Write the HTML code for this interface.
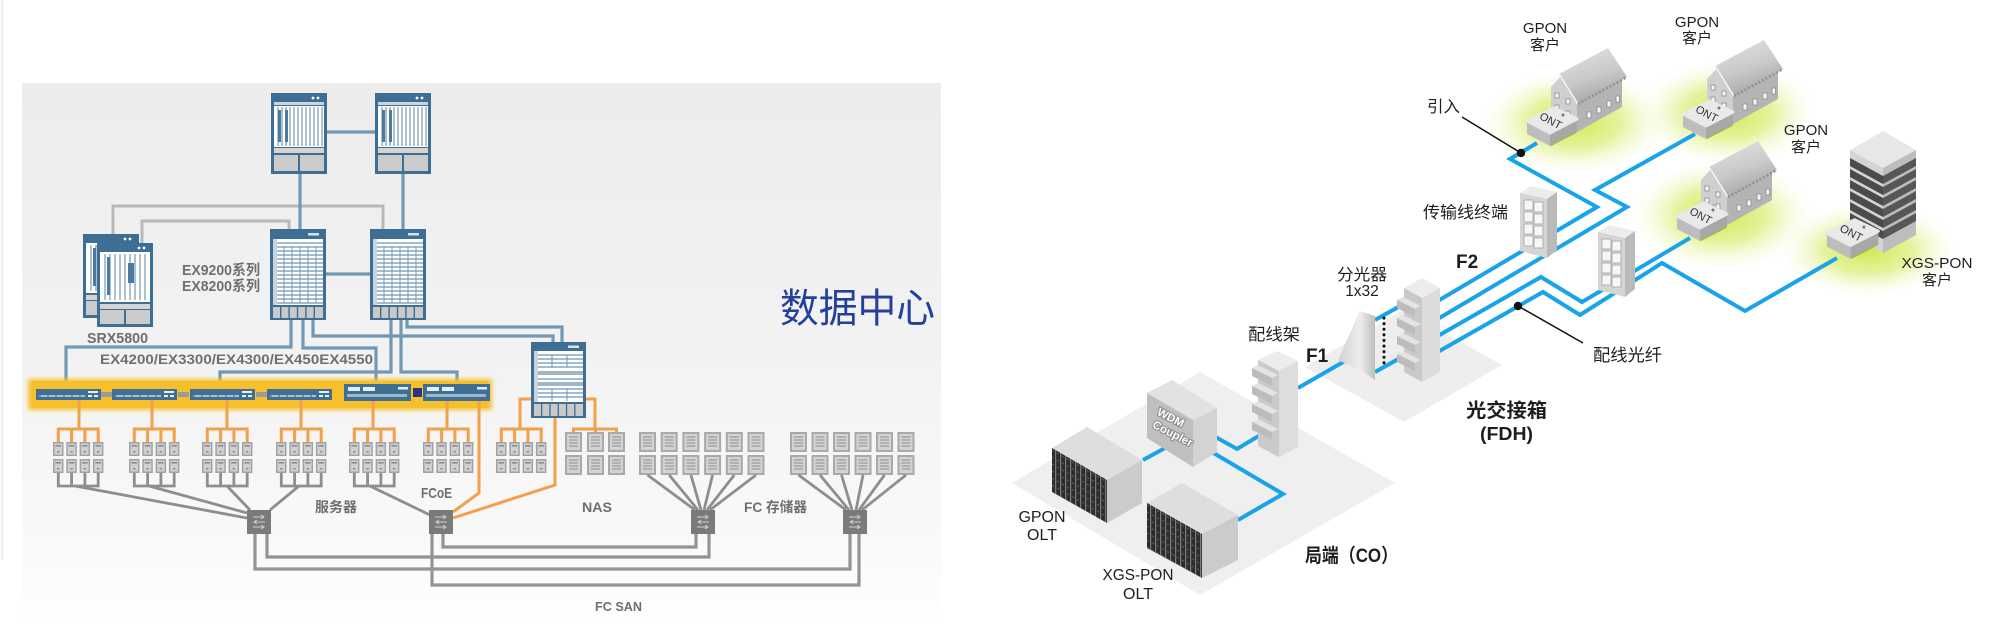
<!DOCTYPE html>
<html><head><meta charset="utf-8">
<style>
html,body{margin:0;padding:0;background:#fff;}
svg{display:block;}
.lt{font-family:"Liberation Sans","Noto Sans CJK SC",sans-serif;font-weight:bold;fill:#6f6f6f;}
.rt{font-family:"Liberation Sans","Noto Sans CJK SC",sans-serif;fill:#1e1e1e;}
.rb{font-family:"Liberation Sans","Noto Sans CJK SC",sans-serif;fill:#1e1e1e;font-weight:bold;}
.dc{font-family:"Liberation Sans","Noto Sans CJK SC",sans-serif;fill:#24409a;}
.wdm{font-family:"Liberation Sans",sans-serif;font-weight:bold;font-size:11.5px;fill:#fff;stroke:#8a8a8a;stroke-width:2;paint-order:stroke;}
.ont{font-family:"Liberation Sans",sans-serif;font-size:11px;fill:#333;}
</style></head>
<body>
<svg width="2006" height="627" viewBox="0 0 2006 627" xmlns="http://www.w3.org/2000/svg">
<defs>
 <linearGradient id="panelG" x1="0" y1="0" x2="0" y2="1">
  <stop offset="0" stop-color="#ececec"/><stop offset="0.55" stop-color="#f3f3f3"/><stop offset="0.85" stop-color="#f9f9f9"/><stop offset="1" stop-color="#fefefe"/>
 </linearGradient>
 <filter id="blur2" x="-5%" y="-40%" width="110%" height="180%"><feGaussianBlur stdDeviation="2.2"/></filter>
 <radialGradient id="glow" cx="0.5" cy="0.5" r="0.5">
  <stop offset="0" stop-color="#cfe94f" stop-opacity="1"/><stop offset="0.5" stop-color="#dbef7c" stop-opacity="0.75"/><stop offset="1" stop-color="#f4fbd6" stop-opacity="0"/>
 </radialGradient>
 <linearGradient id="roofG" x1="0" y1="0" x2="0.4" y2="1">
  <stop offset="0" stop-color="#e6e6e6"/><stop offset="0.6" stop-color="#c9c9c9"/><stop offset="1" stop-color="#a9a9a9"/>
 </linearGradient>
 <linearGradient id="splG" x1="0" y1="0" x2="1" y2="0">
  <stop offset="0" stop-color="#d2d2d2"/><stop offset="0.6" stop-color="#ededed"/><stop offset="1" stop-color="#bdbdbd"/>
 </linearGradient>
 <pattern id="grille" width="5" height="7" patternUnits="userSpaceOnUse" patternTransform="skewY(30)">
  <rect width="5" height="7" fill="#2c2c2c"/><rect x="0" y="0" width="1.2" height="7" fill="#7d7d7d"/><rect x="2" y="3" width="2" height="1.4" fill="#5a5a5a"/>
 </pattern>

 <g id="srv"><rect width="10.5" height="14" fill="#a2a2a2"/><rect x="1.5" y="1.5" width="7.5" height="11" fill="#d0d0d0"/><rect x="2.5" y="3" width="5.5" height="1.6" fill="#8c8c8c"/><rect x="4" y="9" width="2.5" height="1.5" fill="#8c8c8c"/></g>
 <g id="sto"><rect width="17" height="20" fill="#a9a9a9"/><rect x="2" y="2" width="13" height="16" fill="#d3d3d3"/><path d="M4 5h9M4 8h9M4 11h9M4 14h9" stroke="#9c9c9c" stroke-width="1.2"/></g>
 <g id="sansw"><rect width="24" height="24" fill="#7a7a7a"/><path d="M6 7h11M14 5l3 2-3 2M18 12H7M10 10l-3 2 3 2M6 17h11M14 15l3 2-3 2" stroke="#d0d0d0" stroke-width="1" fill="none"/></g>
 <g id="ssw"><rect width="65" height="11" fill="#3f6f95"/><rect x="3" y="6" width="46" height="2" fill="#a9c1d3"/><path d="M4 6v2M12 6v2M20 6v2M28 6v2M36 6v2M44 6v2" stroke="#3f6f95" stroke-width="1"/><rect x="52" y="2" width="10" height="2" fill="#e6eef4"/><rect x="52" y="6" width="4" height="2" fill="#e6eef4"/><rect x="58" y="6" width="4" height="2" fill="#e6eef4"/></g>
 <g id="bsw"><rect width="67" height="17" fill="#3f6f95"/><rect x="4" y="3" width="12" height="4" fill="#e6eef4"/><rect x="19" y="3" width="12" height="4" fill="#e6eef4"/><rect x="54" y="3" width="10" height="2.5" fill="#e6eef4"/><rect x="3" y="10" width="60" height="3" fill="#9bb7cc"/></g>
 <g id="rtr">
  <rect width="56" height="81" fill="#3e6e93"/>
  <circle cx="42" cy="5" r="1.4" fill="#fff"/><circle cx="47" cy="5" r="1.4" fill="#fff"/>
  <rect x="3" y="9" width="50" height="3" fill="#c9d6df"/>
  <rect x="3" y="13" width="50" height="41" fill="#fff"/>
  <path d="M7 14v39M11 14v39M15 14v39M19 14v39M23 14v39M27 14v39M31 14v39M35 14v39M39 14v39M43 14v39M47 14v39M51 14v39" stroke="#8aa8bd" stroke-width="1.4"/>
  <rect x="7" y="17" width="3" height="32" fill="#4b7a9c"/><rect x="14" y="17" width="3" height="32" fill="#4b7a9c"/>
  <rect x="3" y="55" width="50" height="5" fill="#d4d4d4"/>
  <rect x="3" y="62" width="24" height="16" fill="#cbcbcb"/><rect x="29" y="62" width="24" height="16" fill="#cbcbcb"/>
 </g>
 <g id="ex">
  <rect width="56" height="91" fill="#3e6e93"/>
  <rect x="38" y="4" width="11" height="2.5" fill="#d6e1ea"/>
  <rect x="3" y="10" width="50" height="66" fill="#fff"/>
  <rect x="3" y="10" width="4" height="66" fill="#c8d4de"/>
  <path d="M7 14h46M7 18h46M7 22h46M7 26h46M7 30h46M7 34h46M7 38h46M7 42h46M7 46h46M7 50h46M7 54h46M7 58h46M7 62h46M7 66h46M7 70h46M7 74h46" stroke="#6e95b3" stroke-width="1.3"/>
  <path d="M14 18v56M22 18v56M30 18v56M38 18v56M46 18v56" stroke="#6e95b3" stroke-width="0.9"/>
  <g fill="#c9c9c9"><rect x="3" y="78" width="7" height="11"/><rect x="11.4" y="78" width="7" height="11"/><rect x="19.8" y="78" width="7" height="11"/><rect x="28.2" y="78" width="7" height="11"/><rect x="36.6" y="78" width="7" height="11"/><rect x="45" y="78" width="8" height="11"/></g>
 </g>
 <g id="srx">
  <rect width="56" height="84" fill="#3e6e93"/>
  <circle cx="42" cy="5" r="1.4" fill="#fff"/><circle cx="47" cy="5" r="1.4" fill="#fff"/>
  <rect x="3" y="9" width="50" height="50" fill="#fff"/>
  <path d="M8 11v46M13 11v46M18 11v46M23 11v46M28 11v46M33 11v46M38 11v46M43 11v46M48 11v46" stroke="#8aa8bd" stroke-width="1.4"/>
  <rect x="10" y="14" width="3" height="38" fill="#4b7a9c"/><rect x="31" y="20" width="6" height="20" fill="#4b7a9c"/>
  <rect x="3" y="61" width="50" height="5" fill="#d4d4d4"/>
  <rect x="3" y="67" width="24" height="14" fill="#cbcbcb"/><rect x="29" y="67" width="24" height="14" fill="#cbcbcb"/>
 </g>

 <g id="house">
  <polygon points="30,50 75,25 75,57 30,82" fill="#b4b4b4"/>
  <polygon points="4,37 17,23 30,50 30,82 4,68" fill="#cfcfcf"/>
  <polygon points="12,24 61,-2 80,27 31,54" fill="url(#roofG)"/>
  <path d="M12,24 L31,54" stroke="#f4f4f4" stroke-width="1.6"/>
  <path d="M31,54 L80,27" stroke="#8f8f8f" stroke-width="2.5" stroke-dasharray="2 2"/>
  <g fill="#f5f5f5" stroke="#8d8d8d" stroke-width="0.8">
   <rect x="8" y="43" width="4" height="5"/><rect x="19" y="49" width="4" height="5"/>
   <rect x="8" y="55" width="4" height="5"/><rect x="19" y="61" width="4" height="5"/>
   <rect x="13" y="62" width="4" height="9" fill="#bdbdbd"/>
   <rect x="40" y="62" width="4" height="6"/><rect x="50" y="57" width="4" height="6"/><rect x="60" y="51" width="4" height="6"/><rect x="69" y="46" width="3.5" height="6"/>
  </g>
 </g>
 <g id="ont">
  <polygon points="0,27 23,39 50,25 50,12 23,26 0,14" fill="#bdbdbd"/>
  <polygon points="23,26 50,12 50,25 23,39" fill="#a8a8a8"/>
  <path d="M24 38 L49 25" stroke="#9fb56a" stroke-width="2"/>
  <polygon points="0,14 27,1 50,12 23,26" fill="#e9e9e9" stroke="#e9e9e9" stroke-width="3" stroke-linejoin="round"/>
  <circle cx="36" cy="8" r="1.5" fill="#777"/>
  <text class="ont" transform="translate(22,17) rotate(28)" text-anchor="middle">ONT</text>
 </g>
 <g id="tbox">
  <polygon points="0,7 11,0 37,6 27,13" fill="#ececec"/>
  <polygon points="0,7 27,13 27,72 0,65" fill="#d5d5d5"/>
  <polygon points="27,13 37,6 37,64 27,72" fill="#bababa"/>
  <g fill="#f6f6f6" stroke="#a3a3a3" stroke-width="0.8">
   <rect x="4" y="14" width="9" height="10"/><rect x="14" y="16" width="9" height="10"/>
   <rect x="4" y="26" width="9" height="10"/><rect x="14" y="28" width="9" height="10"/>
   <rect x="4" y="38" width="9" height="10"/><rect x="14" y="40" width="9" height="10"/>
   <rect x="4" y="50" width="9" height="10"/><rect x="14" y="52" width="9" height="10"/>
  </g>
 </g>
</defs>

<!-- ================= LEFT PANEL ================= -->
<line x1="2" y1="0" x2="2" y2="560" stroke="#e8e8e8" stroke-width="1.5"/>
<rect x="22" y="83" width="919" height="537" fill="url(#panelG)"/>

<g fill="none" stroke="#b9b9b9" stroke-width="3">
 <path d="M113,234 V206 H383 V229"/>
 <path d="M142,243 V221 H289 V229"/>
</g>
<g fill="none" stroke="#7199b6" stroke-width="3.2">
 <path d="M300,174 V229"/>
 <path d="M403,174 V229"/>
 <path d="M327,132 H375"/>
 <path d="M326,274 H371"/>
 <path d="M291,320 V347 H66 V389"/>
 <path d="M303,320 V348 H376 V384"/>
 <path d="M313,320 V336 H553 V342"/>
 <path d="M407,320 V327 H562 V342"/>
 <path d="M391,320 V372 H220 V389"/>
 <path d="M401,320 V372 H457 V384"/>
</g>

<use href="#rtr" x="271" y="93"/>
<use href="#rtr" x="375" y="93"/>
<use href="#ex" x="270" y="229"/>
<use href="#ex" x="370" y="229"/>
<use href="#srx" x="83" y="234"/>
<use href="#srx" x="97" y="243"/>

<g transform="translate(531,342)">
 <rect width="55" height="76" fill="#3e6e93"/>
 <rect x="37" y="3.5" width="11" height="2.5" fill="#d6e1ea"/>
 <rect x="3" y="9" width="49" height="51" fill="#fff"/>
 <rect x="3" y="9" width="4" height="51" fill="#c8d4de"/>
 <path d="M7 13h45M7 17h45M7 21h45M7 25h45M7 37h45M7 47h45M7 51h45M7 55h45" stroke="#6e95b3" stroke-width="1.2"/>
 <rect x="7" y="29" width="45" height="4" fill="#9eb6c8"/><rect x="7" y="40" width="45" height="4" fill="#9eb6c8"/>
 <path d="M21 13v12M36 13v12M21 47v12M36 47v12" stroke="#6e95b3" stroke-width="1"/>
 <g fill="#c9c9c9"><rect x="3" y="62" width="7" height="12"/><rect x="11.3" y="62" width="7" height="12"/><rect x="19.6" y="62" width="7" height="12"/><rect x="27.9" y="62" width="7" height="12"/><rect x="36.2" y="62" width="7" height="12"/><rect x="44.5" y="62" width="7.5" height="12"/></g>
</g>

<rect x="28" y="379" width="464" height="31" fill="#f6c233" filter="url(#blur2)"/>
<rect x="32" y="381" width="456" height="27" fill="#f5c02c"/>
<g fill="#9b9b9b"><rect x="100" y="392" width="12" height="5"/><rect x="178" y="392" width="11" height="5"/><rect x="256" y="392" width="11" height="5"/></g>
<use href="#ssw" x="36" y="389"/>
<use href="#ssw" x="112" y="389"/>
<use href="#ssw" x="190" y="389"/>
<use href="#ssw" x="267" y="389"/>
<use href="#bsw" x="344" y="384"/>
<use href="#bsw" x="423" y="384"/>
<rect x="413" y="388" width="9" height="9" fill="#2a3588"/>

<g fill="none" stroke="#f3a048" stroke-width="3">
 <path d="M79,400 V429 M58.3,442 V429 H98.2 V442 M71.6,429 V442 M84.9,429 V442"/>
 <path d="M152,400 V429 M134.3,442 V429 H174.2 V442 M147.6,429 V442 M160.9,429 V442"/>
 <path d="M227,400 V429 M207.3,442 V429 H247.2 V442 M220.6,429 V442 M233.9,429 V442"/>
 <path d="M301,400 V429 M281.3,442 V429 H321.2 V442 M294.6,429 V442 M307.9,429 V442"/>
 <path d="M373,401 V429 M354.3,442 V429 H394.2 V442 M367.6,429 V442 M380.9,429 V442"/>
 <path d="M447,401 V429 M428.3,442 V429 H468.2 V442 M441.6,429 V442 M454.9,429 V442"/>
 <path d="M531,399 H520 V429 M501.3,442 V429 H541.2 V442 M514.6,429 V442 M527.9,429 V442"/>
 <path d="M586,399 H595 V429 M573.5,432 V429 H616.5 V432 M595.5,429 V432"/>
 <path d="M479,401 V493 L453,512"/>
 <path d="M555,418 V485 L453,518"/>
</g>

<g>
 <use href="#srv" x="53" y="442"/><use href="#srv" x="66.3" y="442"/><use href="#srv" x="79.6" y="442"/><use href="#srv" x="92.9" y="442"/>
 <use href="#srv" x="53" y="459"/><use href="#srv" x="66.3" y="459"/><use href="#srv" x="79.6" y="459"/><use href="#srv" x="92.9" y="459"/>
 <use href="#srv" x="129" y="442"/><use href="#srv" x="142.3" y="442"/><use href="#srv" x="155.6" y="442"/><use href="#srv" x="168.9" y="442"/>
 <use href="#srv" x="129" y="459"/><use href="#srv" x="142.3" y="459"/><use href="#srv" x="155.6" y="459"/><use href="#srv" x="168.9" y="459"/>
 <use href="#srv" x="202" y="442"/><use href="#srv" x="215.3" y="442"/><use href="#srv" x="228.6" y="442"/><use href="#srv" x="241.9" y="442"/>
 <use href="#srv" x="202" y="459"/><use href="#srv" x="215.3" y="459"/><use href="#srv" x="228.6" y="459"/><use href="#srv" x="241.9" y="459"/>
 <use href="#srv" x="276" y="442"/><use href="#srv" x="289.3" y="442"/><use href="#srv" x="302.6" y="442"/><use href="#srv" x="315.9" y="442"/>
 <use href="#srv" x="276" y="459"/><use href="#srv" x="289.3" y="459"/><use href="#srv" x="302.6" y="459"/><use href="#srv" x="315.9" y="459"/>
 <use href="#srv" x="349" y="442"/><use href="#srv" x="362.3" y="442"/><use href="#srv" x="375.6" y="442"/><use href="#srv" x="388.9" y="442"/>
 <use href="#srv" x="349" y="459"/><use href="#srv" x="362.3" y="459"/><use href="#srv" x="375.6" y="459"/><use href="#srv" x="388.9" y="459"/>
 <use href="#srv" x="423" y="442"/><use href="#srv" x="436.3" y="442"/><use href="#srv" x="449.6" y="442"/><use href="#srv" x="462.9" y="442"/>
 <use href="#srv" x="423" y="459"/><use href="#srv" x="436.3" y="459"/><use href="#srv" x="449.6" y="459"/><use href="#srv" x="462.9" y="459"/>
 <use href="#srv" x="496" y="442"/><use href="#srv" x="509.3" y="442"/><use href="#srv" x="522.6" y="442"/><use href="#srv" x="535.9" y="442"/>
 <use href="#srv" x="496" y="459"/><use href="#srv" x="509.3" y="459"/><use href="#srv" x="522.6" y="459"/><use href="#srv" x="535.9" y="459"/>
</g>

<g>
 <use href="#sto" x="565" y="432"/><use href="#sto" x="587" y="432"/><use href="#sto" x="608" y="432"/>
 <use href="#sto" x="565" y="455"/><use href="#sto" x="587" y="455"/><use href="#sto" x="608" y="455"/>
 <use href="#sto" x="639" y="432"/><use href="#sto" x="660.7" y="432"/><use href="#sto" x="682.4" y="432"/><use href="#sto" x="704.1" y="432"/><use href="#sto" x="725.8" y="432"/><use href="#sto" x="747.5" y="432"/>
 <use href="#sto" x="639" y="455"/><use href="#sto" x="660.7" y="455"/><use href="#sto" x="682.4" y="455"/><use href="#sto" x="704.1" y="455"/><use href="#sto" x="725.8" y="455"/><use href="#sto" x="747.5" y="455"/>
 <use href="#sto" x="790" y="432"/><use href="#sto" x="811.5" y="432"/><use href="#sto" x="833" y="432"/><use href="#sto" x="854.5" y="432"/><use href="#sto" x="876" y="432"/><use href="#sto" x="897.5" y="432"/>
 <use href="#sto" x="790" y="455"/><use href="#sto" x="811.5" y="455"/><use href="#sto" x="833" y="455"/><use href="#sto" x="854.5" y="455"/><use href="#sto" x="876" y="455"/><use href="#sto" x="897.5" y="455"/>
</g>

<g fill="none" stroke="#8e8e8e" stroke-width="2.8">
 <path d="M58.3,473 V486 H98.2 V473 M71.6,473 V486 M84.9,473 V486"/>
 <path d="M134.3,473 V486 H174.2 V473 M147.6,473 V486 M160.9,473 V486"/>
 <path d="M207.3,473 V486 H247.2 V473 M220.6,473 V486 M233.9,473 V486"/>
 <path d="M281.3,473 V486 H321.2 V473 M294.6,473 V486 M307.9,473 V486"/>
 <path d="M354.3,473 V486 H394.2 V473 M367.6,473 V486 M380.9,473 V486"/>
 <path d="M75,486 L247,518"/>
 <path d="M149,486 L247,513"/>
 <path d="M227,486 L250,510"/>
 <path d="M299,486 L270,510"/>
 <path d="M370,486 L430,515"/>
 <path d="M647.5,475 L695,510 M669.2,475 L698,510 M690.9,475 L701,510 M712.6,475 L704,510 M734.3,475 L707,510 M756,475 L710,510"/>
 <path d="M798.5,475 L846,510 M820,475 L849,510 M841.5,475 L852,510 M863,475 L856,510 M884.5,475 L859,510 M906,475 L862,510"/>
</g>
<g fill="none" stroke="#949494" stroke-width="3.2">
 <path d="M267,534 V557 H709 V534"/>
 <path d="M255,534 V569 H850 V534"/>
 <path d="M443,534 V547 H696 V534"/>
 <path d="M432,534 V585 H859 V534"/>
</g>
<use href="#sansw" x="247" y="510"/>
<use href="#sansw" x="429" y="510"/>
<use href="#sansw" x="691" y="510"/>
<use href="#sansw" x="843" y="510"/>

<text class="lt" x="87" y="343" font-size="15" textLength="61" lengthAdjust="spacingAndGlyphs">SRX5800</text>
<text class="lt" x="182" y="275" font-size="14.5" textLength="78" lengthAdjust="spacingAndGlyphs">EX9200系列</text>
<text class="lt" x="182" y="291" font-size="14.5" textLength="78" lengthAdjust="spacingAndGlyphs">EX8200系列</text>
<text class="lt" x="100" y="364" font-size="14" textLength="273" lengthAdjust="spacingAndGlyphs">EX4200/EX3300/EX4300/EX450EX4550</text>
<text class="lt" x="315" y="512" font-size="14" textLength="42" lengthAdjust="spacingAndGlyphs">服务器</text>
<text class="lt" x="421" y="498" font-size="15" textLength="31" lengthAdjust="spacingAndGlyphs">FCoE</text>
<text class="lt" x="582" y="512" font-size="13.5" textLength="30" lengthAdjust="spacingAndGlyphs">NAS</text>
<text class="lt" x="744" y="512" font-size="14" textLength="63" lengthAdjust="spacingAndGlyphs">FC 存储器</text>
<text class="lt" x="595" y="611" font-size="13" textLength="47" lengthAdjust="spacingAndGlyphs">FC SAN</text>
<text class="dc" x="780" y="322" font-size="40" textLength="155" lengthAdjust="spacingAndGlyphs">数据中心</text>

<!-- ================= RIGHT PANEL ================= -->
<ellipse cx="1575" cy="122" rx="92" ry="52" fill="url(#glow)"/>
<ellipse cx="1728" cy="113" rx="88" ry="52" fill="url(#glow)"/>
<ellipse cx="1722" cy="215" rx="90" ry="55" fill="url(#glow)"/>
<ellipse cx="1868" cy="250" rx="88" ry="46" fill="url(#glow)"/>

<polygon points="1012,483 1200,372 1395,483 1200,595" fill="#efefef"/>
<polygon points="1305,367 1403,310 1502,365 1404,422" fill="#eeeeee"/>

<g fill="none" stroke="#19a3e8" stroke-width="4" stroke-linejoin="miter">
 <path d="M1143,460 L1165,448"/>
 <path d="M1203,430 L1237,449 L1262,434"/>
 <path d="M1205,448 L1283,494 L1238,520"/>
 <path d="M1298,388 L1345,361"/>
 <path d="M1375,320 L1402,305"/>
 <path d="M1375,372 L1402,357"/>
 <path d="M1436,302 L1597,207 L1510,159 L1537,143"/>
 <path d="M1436,320 L1627,207 L1595,190 L1695,134"/>
 <path d="M1436,337 L1541,277 L1582,302 L1690,238"/>
 <path d="M1436,353 L1543,292 L1580,315 L1662,263 L1745,311 L1837,258"/>
</g>

<polygon points="1052,448 1087,427 1142,460 1107,480" fill="#dedede"/>
<polygon points="1052,448 1107,480 1107,523 1052,492" fill="url(#grille)"/>
<polygon points="1107,480 1142,460 1142,503 1107,523" fill="#cbcbcb"/>
<polygon points="1147,503 1182,483 1238,515 1202,534" fill="#dedede"/>
<polygon points="1147,503 1202,534 1202,578 1147,548" fill="url(#grille)"/>
<polygon points="1202,534 1238,515 1238,560 1202,578" fill="#cbcbcb"/>
<polygon points="1147,393 1172,380 1217,408 1193,420" fill="#e2e2e2"/>
<polygon points="1147,393 1193,420 1193,467 1147,438" fill="#bfbfbf"/>
<polygon points="1193,420 1217,408 1217,452 1193,467" fill="#d3d3d3"/>
<text class="wdm" transform="translate(1169,421) rotate(27)" text-anchor="middle">WDM</text>
<text class="wdm" transform="translate(1171,437) rotate(27)" text-anchor="middle">Coupler</text>

<polygon points="1258,360 1277,351 1298,361 1279,371" fill="#ececec"/>
<polygon points="1258,360 1279,371 1279,457 1258,446" fill="#cacaca"/>
<polygon points="1279,371 1298,361 1298,447 1279,457" fill="#dddddd"/>
<g>
 <polygon points="1252,368 1258,365 1278,375 1272,378" fill="#e4e4e4"/><polygon points="1252,368 1272,378 1272,386 1252,376" fill="#bcbcbc"/>
 <polygon points="1252,386 1258,383 1278,393 1272,396" fill="#e4e4e4"/><polygon points="1252,386 1272,396 1272,404 1252,394" fill="#bcbcbc"/>
 <polygon points="1252,404 1258,401 1278,411 1272,414" fill="#e4e4e4"/><polygon points="1252,404 1272,414 1272,422 1252,412" fill="#bcbcbc"/>
 <polygon points="1252,422 1258,419 1278,429 1272,432" fill="#e4e4e4"/><polygon points="1252,422 1272,432 1272,440 1252,430" fill="#bcbcbc"/>
</g>

<polygon points="1338,360 1360,311 1364,372" fill="#dcdcdc"/>
<polygon points="1360,311 1375,316 1375,380 1364,372 1338,360" fill="url(#splG)"/>
<line x1="1384" y1="318" x2="1384" y2="368" stroke="#111" stroke-width="3" stroke-dasharray="0.1 5.5" stroke-linecap="round"/>

<polygon points="1404,288 1422,278 1440,288 1422,298" fill="#ececec"/>
<polygon points="1404,288 1422,298 1422,382 1404,372" fill="#c9c9c9"/>
<polygon points="1422,298 1440,288 1440,372 1422,382" fill="#dcdcdc"/>
<g>
 <polygon points="1397,300 1403,297 1421,306 1415,309" fill="#e4e4e4"/><polygon points="1397,300 1415,309 1415,317 1397,308" fill="#bcbcbc"/>
 <polygon points="1397,318 1403,315 1421,324 1415,327" fill="#e4e4e4"/><polygon points="1397,318 1415,327 1415,335 1397,326" fill="#bcbcbc"/>
 <polygon points="1397,336 1403,333 1421,342 1415,345" fill="#e4e4e4"/><polygon points="1397,336 1415,345 1415,353 1397,344" fill="#bcbcbc"/>
 <polygon points="1397,354 1403,351 1421,360 1415,363" fill="#e4e4e4"/><polygon points="1397,354 1415,363 1415,371 1397,362" fill="#bcbcbc"/>
</g>

<use href="#tbox" x="1520" y="186"/>
<use href="#tbox" x="1598" y="225"/>

<use href="#house" x="1547" y="50"/>
<use href="#house" x="1703" y="42"/>
<use href="#house" x="1697" y="143"/>
<use href="#ont" x="1527" y="107"/>
<use href="#ont" x="1683" y="100"/>
<use href="#ont" x="1677" y="202"/>

<polygon points="1850,150 1883,131 1916,150 1883,168" fill="#e7e7e7"/>
<polygon points="1850,150 1883,168 1883,253 1850,235" fill="#d4d4d4"/>
<polygon points="1883,168 1916,150 1916,235 1883,253" fill="#bdbdbd"/>
<g fill="#4b4b4b">
 <polygon points="1850,158 1883,176 1883,184 1850,166"/>
 <polygon points="1850,169 1883,187 1883,195 1850,177"/>
 <polygon points="1850,180 1883,198 1883,206 1850,188"/>
 <polygon points="1850,191 1883,209 1883,217 1850,199"/>
 <polygon points="1850,202 1883,220 1883,228 1850,210"/>
 <polygon points="1850,213 1883,231 1883,239 1850,221"/>
</g>
<g fill="#575757">
 <polygon points="1883,176 1916,158 1916,166 1883,184"/>
 <polygon points="1883,187 1916,169 1916,177 1883,195"/>
 <polygon points="1883,198 1916,180 1916,188 1883,206"/>
 <polygon points="1883,209 1916,191 1916,199 1883,217"/>
 <polygon points="1883,220 1916,202 1916,210 1883,228"/>
 <polygon points="1883,231 1916,213 1916,221 1883,239"/>
</g>
<use href="#ont" x="1827" y="225" transform="translate(-55,-13) scale(1.03)"/>

<line x1="1462" y1="117" x2="1521" y2="153" stroke="#111" stroke-width="1.5"/>
<circle cx="1521" cy="153" r="4.2" fill="#111"/>
<line x1="1518" y1="306" x2="1583" y2="343" stroke="#111" stroke-width="1.5"/>
<circle cx="1518" cy="306" r="4.2" fill="#111"/>

<text class="rt" x="1545" y="33" font-size="15" text-anchor="middle">GPON</text>
<text class="rt" x="1545" y="50" font-size="15" text-anchor="middle">客户</text>
<text class="rt" x="1697" y="27" font-size="15" text-anchor="middle">GPON</text>
<text class="rt" x="1697" y="43" font-size="15" text-anchor="middle">客户</text>
<text class="rt" x="1806" y="135" font-size="15" text-anchor="middle">GPON</text>
<text class="rt" x="1806" y="152" font-size="15" text-anchor="middle">客户</text>
<text class="rt" x="1937" y="268" font-size="15" text-anchor="middle" textLength="71" lengthAdjust="spacingAndGlyphs">XGS-PON</text>
<text class="rt" x="1937" y="285" font-size="15" text-anchor="middle">客户</text>
<text class="rt" x="1427" y="112" font-size="16" textLength="33" lengthAdjust="spacingAndGlyphs">引入</text>
<text class="rt" x="1423" y="218" font-size="16.5" textLength="85" lengthAdjust="spacingAndGlyphs">传输线终端</text>
<text class="rb" x="1456" y="268" font-size="19">F2</text>
<text class="rb" x="1306" y="362" font-size="19">F1</text>
<text class="rt" x="1362" y="280" font-size="16" text-anchor="middle" textLength="50" lengthAdjust="spacingAndGlyphs">分光器</text>
<text class="rt" x="1362" y="296" font-size="15.5" text-anchor="middle">1x32</text>
<text class="rt" x="1248" y="340" font-size="16.5" textLength="52" lengthAdjust="spacingAndGlyphs">配线架</text>
<text class="rt" x="1593" y="361" font-size="17" textLength="69" lengthAdjust="spacingAndGlyphs">配线光纤</text>
<text class="rb" x="1466" y="417" font-size="19.5" textLength="81" lengthAdjust="spacingAndGlyphs">光交接箱</text>
<text class="rb" x="1480" y="440" font-size="18" textLength="53" lengthAdjust="spacingAndGlyphs">(FDH)</text>
<text class="rb" x="1305" y="562" font-size="19.5" textLength="93" lengthAdjust="spacingAndGlyphs">局端（CO）</text>
<text class="rt" x="1042" y="522" font-size="16" text-anchor="middle">GPON</text>
<text class="rt" x="1042" y="540" font-size="16" text-anchor="middle">OLT</text>
<text class="rt" x="1138" y="580" font-size="16" text-anchor="middle" textLength="71" lengthAdjust="spacingAndGlyphs">XGS-PON</text>
<text class="rt" x="1138" y="599" font-size="16" text-anchor="middle">OLT</text>
</svg>
</body></html>
